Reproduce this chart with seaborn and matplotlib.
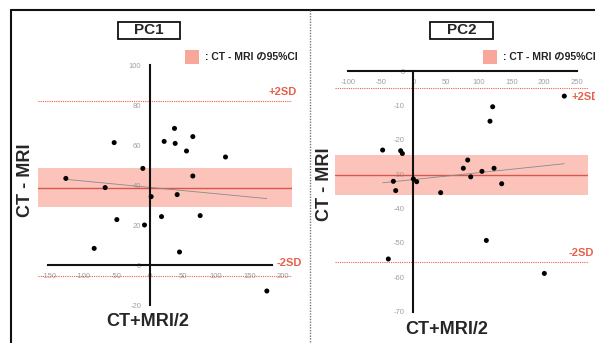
import numpy as np
import pandas as pd
import seaborn as sns
import matplotlib.pyplot as plt
from matplotlib.patches import Rectangle
from matplotlib.lines import Line2D

# PC1: (CT+MRI)/2 vs CT-MRI
pc1_mean_x = [-125.5, -66.5, -53, -49, -83, -10, -7.5, 2.5, 18, 22,
              37.5, 38.5, 41.5, 45, 55.5, 65, 65, 76, 114, 176]
pc1_diff = [43.3, 38.7, 61.2, 22.7, 8.3, 48.3, 20, 34.2, 24.2, 61.8,
            68.3, 60.8, 35.2, 6.5, 57, 64.2, 44.5, 24.7, 54, -13]
pc1_bias = 38.5
pc1_ci = (29, 48.5)
pc1_sd = (82, -5.5)

# PC2
pc2_mean_x = [-47, -19.4, -16.8, -30.6, -27, -38.3, 0, 5.1, 41.8, 76.5,
              83.2, 87.8, 105, 111.7, 117.3, 121.4, 123.5, 135.2, 200.5, 231]
pc2_diff = [-23, -23.2, -24, -32.1, -34.8, -54.7, -31.4, -32.2, -35.4, -28.3,
            -25.9, -30.8, -29.2, -49.3, -14.6, -10.4, -28.3, -32.8, -58.9, -7.3]
pc2_bias = -30.3
pc2_ci = (-36.1, -24.4)
pc2_sd = (-5.0, -55.5)

pc1_xticks = [-150, -100, -50, 0, 50, 100, 150, 200]
pc1_yticks = [-20, 0, 20, 40, 60, 80, 100]
pc2_xticks = [-100, -50, 0, 50, 100, 150, 200, 250]
pc2_yticks = [-70, -60, -50, -40, -30, -20, -10, 0]

W, H = 595, 343
sns.set_theme(style="white")
plt.rcParams["font.family"] = ["Liberation Sans", "Noto Sans CJK JP", "DejaVu Sans"]
plt.rcParams["axes.unicode_minus"] = False

fig = plt.figure(figsize=(W / 100, H / 100), dpi=100)


def fx(px):
    return px / W


def fy(py):
    return 1 - py / H


def make_ax(l, r, t, b):
    return fig.add_axes([fx(l), fy(b), (r - l) / W, (b - t) / H])


red = "#e8604c"
band = "#fcc3bb"
tick_col = "#a0a0a0"


def panel(ax, xs, ys, bias, ci, sd, xticks, yticks, xlim, ylim, xb, yb):
    df = pd.DataFrame({"avg": xs, "diff": ys})
    ax.axhspan(ci[0], ci[1], color=band, lw=0, zorder=0)
    ax.axhline(bias, color="#d9574a", lw=1.0, zorder=1)
    for v in sd:
        ax.axhline(v, color=red, lw=0.8, ls=(0, (1, 1)), zorder=1)
    sns.regplot(data=df, x="avg", y="diff", ax=ax, scatter=False, ci=None,
                line_kws=dict(color="#8a8a8a", lw=0.6))
    sns.scatterplot(data=df, x="avg", y="diff", ax=ax, color="black", s=13,
                    edgecolor="none", zorder=5)
    ax.set_xlim(*xlim)
    ax.set_ylim(*ylim)
    ax.set_xlabel("")
    ax.set_ylabel("")
    for s in ["top", "right"]:
        ax.spines[s].set_visible(False)
    ax.spines["left"].set_position(("data", 0))
    ax.spines["bottom"].set_position(("data", 0))
    ax.spines["left"].set_bounds(*yb)
    ax.spines["bottom"].set_bounds(*xb)
    for s in ["left", "bottom"]:
        ax.spines[s].set_color("#111111")
        ax.spines[s].set_linewidth(1.5)
        ax.spines[s].set_zorder(3)
    ax.set_xticks(xticks)
    ax.set_yticks(yticks)
    ax.tick_params(length=0, pad=6, labelsize=5.5, labelcolor=tick_col)
    ax.patch.set_alpha(0)


ax1 = make_ax(38, 292, 60, 310)
panel(ax1, pc1_mean_x, pc1_diff, pc1_bias, pc1_ci, pc1_sd, pc1_xticks, pc1_yticks,
      (-167.25, 213.75), (-22.5, 102.5), (-152, 184), (-20, 100))
ax1.text(179, 86.4, "+2SD", color=red, fontsize=8, fontweight="bold", va="center", clip_on=False)
ax1.text(190, 1, "-2SD", color=red, fontsize=8, fontweight="bold", va="center", clip_on=False)

ax2 = make_ax(335, 588, 65, 315)
panel(ax2, pc2_mean_x, pc2_diff, pc2_bias, pc2_ci, pc2_sd, pc2_xticks, pc2_yticks,
      (-119.9, 267.3), (-71.0, 1.75), (-100.5, 251), (-70, 0))
ax2.text(242.3, -7.5, "+2SD", color=red, fontsize=8, fontweight="bold", va="center", clip_on=False)
ax2.text(237.2, -53.0, "-2SD", color=red, fontsize=8, fontweight="bold", va="center", clip_on=False)

# frame and divider
fig.add_artist(Line2D([fx(11), fx(11)], [fy(10), 0], color="#111111", lw=1.5))
fig.add_artist(Line2D([fx(11), 1], [fy(10), fy(10)], color="#111111", lw=1.5))
fig.add_artist(Line2D([fx(310), fx(310)], [fy(10), 0], color="#777777", lw=1.0, ls=(0, (1, 1))))

# titles, legends, axis labels
for (l, r, t, b, name) in [(118, 180, 22, 39, "PC1"), (430, 493, 22, 39, "PC2")]:
    fig.add_artist(Rectangle((fx(l), fy(b)), (r - l) / W, (b - t) / H, transform=fig.transFigure,
                             fill=False, ec="#111111", lw=1.3))
    fig.text(fx((l + r) / 2), fy((t + b) / 2), name, ha="center", va="center",
             fontsize=11, fontweight="bold")

for (px, tx) in [(185, 205), (483, 503)]:
    fig.add_artist(Rectangle((fx(px), fy(64)), 14 / W, 14 / H, transform=fig.transFigure,
                             color="#f9a79b", lw=0))
    fig.text(fx(tx), fy(57), ": CT - MRI の95%CI", ha="left", va="center",
             fontsize=7.5, fontweight="bold", color="#222222")

fig.text(fx(25), fy(180), "CT - MRI", rotation=90, ha="center", va="center",
         fontsize=13, fontweight="bold")
fig.text(fx(325), fy(184), "CT - MRI", rotation=90, ha="center", va="center",
         fontsize=13, fontweight="bold")
fig.text(fx(148), fy(322), "CT+MRI/2", ha="center", va="center", fontsize=13, fontweight="bold")
fig.text(fx(447), fy(330), "CT+MRI/2", ha="center", va="center", fontsize=13, fontweight="bold")

fig.savefig("out.png", dpi=100)
